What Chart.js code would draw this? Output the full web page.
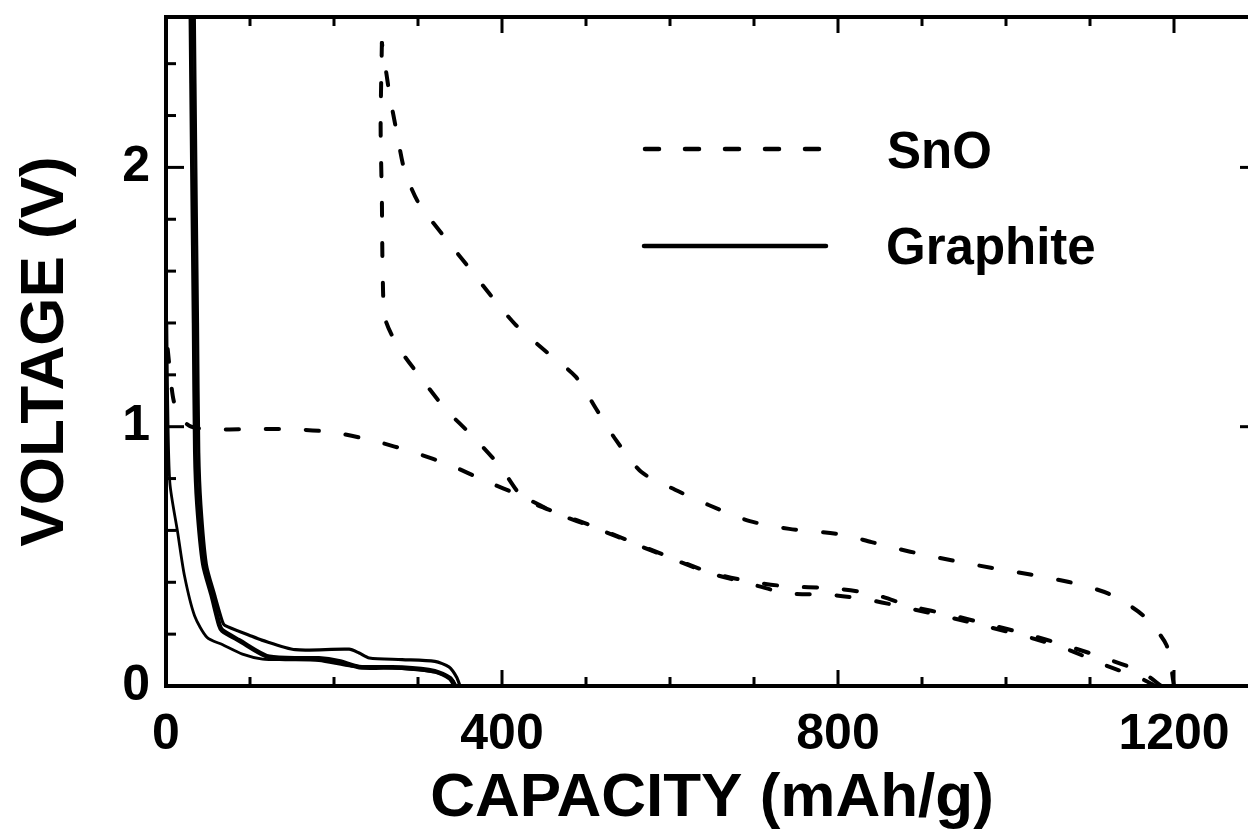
<!DOCTYPE html>
<html><head><meta charset="utf-8">
<script src="https://cdn.jsdelivr.net/npm/chart.js@4.4.1/dist/chart.umd.min.js"></script>
<style>
html,body{margin:0;padding:0;background:#fff;overflow:hidden;}
#wrap{position:absolute;left:0;top:0;width:1262px;height:833px;}
</style></head>
<body><div id="wrap"><canvas id="c" width="1262" height="833"></canvas></div>
<script>
// ---- tick labels ----
const capacityTicks = [0, 400, 800, 1200];
const capacityMinorTicks = [100, 200, 300, 500, 600, 700, 900, 1000, 1100, 1300];
const voltageTicks = [0, 1, 2];
const voltageMinorTicks = [0.2, 0.4, 0.6, 0.8, 1.2, 1.4, 1.6, 1.8, 2.2, 2.4];
const seriesNames = ['SnO', 'Graphite'];

// ---- SnO (dashed) ----
const snoDis1Cap = [2, 8, 15, 30, 51, 100, 153, 200, 248, 296, 338, 380, 424, 467, 511, 565, 646, 692, 739, 790, 840, 888, 934, 980, 1025, 1071, 1120, 1162, 1178];
const snoDis1V   = [1.3, 1.12, 1.04, 1.0, 0.989, 0.991, 0.99, 0.978, 0.945, 0.9, 0.852, 0.791, 0.731, 0.663, 0.61, 0.539, 0.437, 0.397, 0.358, 0.352, 0.33, 0.297, 0.264, 0.227, 0.19, 0.144, 0.078, 0.027, 0];
const snoChargeCap = [1200, 1191, 1163, 1122, 1075, 1029, 982, 935, 886, 840, 803, 742, 695, 646, 606, 566, 536, 512, 488, 452, 416, 386, 358, 330, 301, 284, 275, 266, 259, 257];
const snoChargeV   = [0, 0.158, 0.273, 0.356, 0.401, 0.43, 0.456, 0.485, 0.518, 0.555, 0.585, 0.606, 0.636, 0.698, 0.757, 0.825, 0.947, 1.069, 1.192, 1.291, 1.394, 1.509, 1.624, 1.738, 1.861, 1.988, 2.13, 2.284, 2.438, 2.48];
const snoDis2Cap = [257, 255.5, 257, 258, 261, 277, 305, 333, 367, 398, 425, 467, 511, 565, 646, 692, 739, 790, 840, 888, 934, 980, 1025, 1071, 1120, 1162, 1185];
const snoDis2V   = [2.48, 2.16, 1.874, 1.585, 1.416, 1.305, 1.182, 1.067, 0.957, 0.846, 0.727, 0.666, 0.613, 0.542, 0.44, 0.405, 0.384, 0.378, 0.356, 0.307, 0.274, 0.237, 0.2, 0.156, 0.105, 0.053, 0];

// ---- Graphite (solid) ----
const grChargeCap = [33.5, 35.5, 37.5, 39, 41.5, 48, 58, 67, 70, 99, 114, 154, 218, 230, 242, 281, 320, 337, 346, 350];
const grChargeV   = [2.65, 2.0, 1.4, 0.9, 0.7, 0.47, 0.35, 0.25, 0.234, 0.196, 0.177, 0.14, 0.142, 0.127, 0.108, 0.102, 0.095, 0.073, 0.034, 0];
const grDis2Cap = [29.5, 31.5, 33.5, 35, 37.5, 44.5, 54.5, 63.5, 67, 87, 123, 182, 206, 230, 281, 320, 338, 344];
const grDis2V   = [2.65, 2.0, 1.4, 0.9, 0.7, 0.47, 0.35, 0.235, 0.214, 0.176, 0.112, 0.106, 0.095, 0.073, 0.071, 0.057, 0.03, 0];
const grDis1Cap = [1, 2, 4.6, 14, 22, 34, 49, 67, 91, 115, 142, 182, 221, 281, 320, 341, 345];
const grDis1V   = [1.4, 1.1, 0.783, 0.59, 0.425, 0.271, 0.187, 0.16, 0.123, 0.104, 0.101, 0.098, 0.076, 0.067, 0.053, 0.023, 0];

const FONT = '"Liberation Sans", Arial, Helvetica, sans-serif';
function pts(xs, ys) { return xs.map((x, i) => ({ x: x, y: ys[i] })); }

const dashStyle = { borderColor: '#000', borderWidth: 4, borderDash: [13, 27], borderCapStyle: 'round', pointRadius: 0, showLine: true, tension: 0.25, fill: false };
const solidStyle = { borderColor: '#000', pointRadius: 0, showLine: true, tension: 0.25, fill: false, borderJoinStyle: 'round' };

const datasets = [
  Object.assign({ label: seriesNames[0], data: pts(snoDis1Cap, snoDis1V) }, dashStyle),
  Object.assign({ label: seriesNames[0], data: pts(snoChargeCap, snoChargeV) }, dashStyle),
  Object.assign({ label: seriesNames[0], data: pts(snoDis2Cap, snoDis2V) }, dashStyle),
  Object.assign({ label: seriesNames[1], data: pts(grDis1Cap, grDis1V), borderWidth: 2.8 }, solidStyle),
  Object.assign({ label: seriesNames[1], data: pts(grChargeCap, grChargeV), borderWidth: 3.2 }, solidStyle),
  Object.assign({ label: seriesNames[1], data: pts(grDis2Cap, grDis2V), borderWidth: 4.8 }, solidStyle)
];

const bgPlugin = {
  id: 'bg',
  beforeDraw(chart) {
    const c = chart.ctx; c.save(); c.fillStyle = '#fff'; c.fillRect(0, 0, chart.width, chart.height); c.restore();
  }
};

const framePlugin = {
  id: 'frame',
  afterDatasetsDraw(chart) {
    const c = chart.ctx, a = chart.chartArea, xs = chart.scales.x, ys = chart.scales.y;
    c.save();
    c.strokeStyle = '#000';
    c.lineWidth = 4;
    c.lineCap = 'square';
    c.strokeRect(a.left, a.top, a.right - a.left, a.bottom - a.top);
    c.lineWidth = 3;
    c.lineCap = 'butt';
    const xt = capacityTicks.map(v => [v, 16]).concat(capacityMinorTicks.map(v => [v, 9]));
    xt.forEach(([v, len]) => {
      const px = xs.getPixelForValue(v);
      c.beginPath(); c.moveTo(px, a.bottom); c.lineTo(px, a.bottom - len); c.stroke();
      c.beginPath(); c.moveTo(px, a.top); c.lineTo(px, a.top + len); c.stroke();
    });
    const yt = voltageTicks.map(v => [v, 18]).concat(voltageMinorTicks.map(v => [v, 10]));
    yt.forEach(([v, len]) => {
      const py = ys.getPixelForValue(v);
      c.beginPath(); c.moveTo(a.left, py); c.lineTo(a.left + len, py); c.stroke();
      c.beginPath(); c.moveTo(a.right, py); c.lineTo(a.right - len, py); c.stroke();
    });
    c.restore();
  }
};

const legendPlugin = {
  id: 'customLegend',
  afterDraw(chart) {
    const c = chart.ctx;
    c.save();
    c.strokeStyle = '#000';
    c.lineWidth = 4.5;
    c.lineCap = 'round';
    c.setLineDash([14, 26]);
    c.beginPath(); c.moveTo(645, 149); c.lineTo(825, 149); c.stroke();
    c.setLineDash([]);
    c.beginPath(); c.moveTo(644, 246); c.lineTo(826, 246); c.stroke();
    c.fillStyle = '#000';
    c.font = 'bold 51px ' + FONT;
    c.textBaseline = 'alphabetic';
    c.textAlign = 'left';
    c.fillText(seriesNames[0], 887, 168);
    c.fillText(seriesNames[1], 886, 264);
    c.restore();
  }
};

new Chart(document.getElementById('c').getContext('2d'), {
  type: 'scatter',
  data: { datasets: datasets },
  options: {
    responsive: false,
    animation: false,
    events: [],
    layout: { padding: { top: 17, right: 4, left: 0, bottom: 0 } },
    plugins: { legend: { display: false }, tooltip: { enabled: false } },
    scales: {
      x: {
        type: 'linear', min: 0, max: 1300,
        afterFit(s) { s.height = 147; s.paddingLeft = 0; s.paddingRight = 0; },
        afterBuildTicks(s) { s.ticks = capacityTicks.map(v => ({ value: v })); },
        grid: { display: false, drawTicks: false },
        border: { display: false },
        ticks: { font: { size: 50, weight: 'bold', family: FONT }, color: '#000', padding: 19, maxRotation: 0, autoSkip: false, callback: v => String(v) },
        title: { display: true, text: 'CAPACITY (mAh/g)', color: '#000', font: { size: 62, weight: 'bold', family: FONT, lineHeight: 1 }, padding: { top: 0, bottom: 3 } }
      },
      y: {
        type: 'linear', min: 0, max: 2.58,
        afterFit(s) { s.width = 166; s.paddingTop = 0; s.paddingBottom = 0; },
        afterBuildTicks(s) { s.ticks = voltageTicks.map(v => ({ value: v })); },
        grid: { display: false, drawTicks: false },
        border: { display: false },
        ticks: { font: { size: 50, weight: 'bold', family: FONT }, color: '#000', padding: 16, autoSkip: false, callback: v => String(v) },
        title: { display: true, text: 'VOLTAGE (V)', color: '#000', font: { size: 62, weight: 'bold', family: FONT, lineHeight: 1 }, padding: { top: 15, bottom: 0 } }
      }
    }
  },
  plugins: [bgPlugin, framePlugin, legendPlugin]
});
</script>
</body></html>
